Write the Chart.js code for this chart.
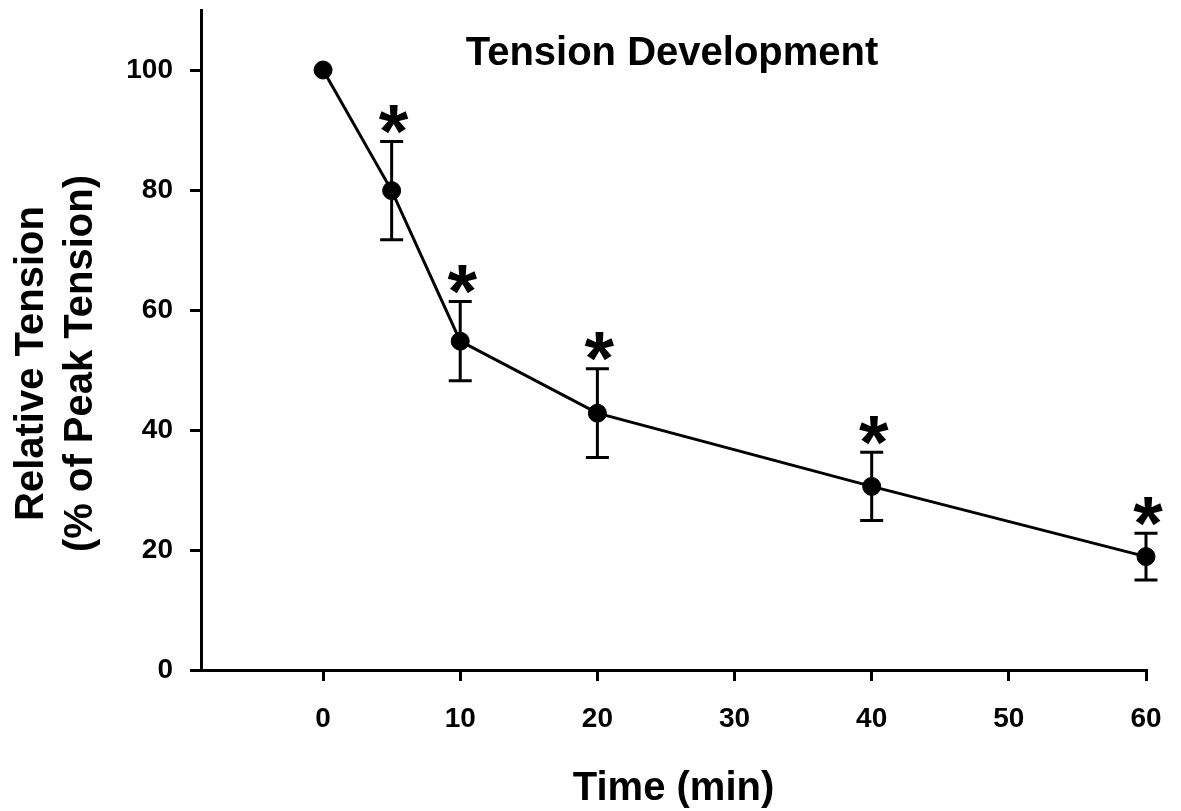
<!DOCTYPE html>
<html>
<head>
<meta charset="utf-8">
<script src="https://cdn.jsdelivr.net/npm/chart.js@4.4.1/dist/chart.umd.min.js"></script>
<style>
  html, body { margin: 0; padding: 0; background: #fff; }
  #wrap { width: 1181px; height: 811px; }
</style>
</head>
<body>
<div id="wrap"><canvas id="tensionChart" width="1181" height="811"></canvas></div>
<script>
// data
const times = [0, 5, 10, 20, 40, 60];
const tension = [100, 79.9, 54.8, 42.8, 30.6, 18.9];
const tensionErr = [0, 8.2, 6.6, 7.4, 5.7, 3.9];
const significant = [false, true, true, true, true, true];
const xTicks = [0, 10, 20, 30, 40, 50, 60];
const yTicks = [0, 20, 40, 60, 80, 100];

const titleText = 'Tension Development';
const yTitleLines = ['Relative Tension', '(% of Peak Tension)'];
const xTitleText = 'Time (min)';

document.addEventListener('DOMContentLoaded', function () {
    const FONT = "'Liberation Sans', Arial, sans-serif";
    Chart.defaults.font.family = FONT;
    Chart.defaults.color = '#000';

    const ctx = document.getElementById('tensionChart').getContext('2d');

    // error bars + asterisks, drawn through the chart scales
    const errorBars = {
        id: 'errorBars',
        beforeDatasetsDraw: chart => {
            const c = chart.ctx;
            const xs = chart.scales.x, ys = chart.scales.y;
            c.save();
            c.strokeStyle = '#000';
            c.lineWidth = 3;
            times.forEach((t, i) => {
                if (!tensionErr[i]) return;
                const px = xs.getPixelForValue(t);
                const top = ys.getPixelForValue(tension[i] + tensionErr[i]);
                const bot = ys.getPixelForValue(tension[i] - tensionErr[i]);
                c.beginPath();
                c.moveTo(px, top); c.lineTo(px, bot);
                c.moveTo(px - 11.5, top); c.lineTo(px + 11.5, top);
                c.moveTo(px - 11.5, bot); c.lineTo(px + 11.5, bot);
                c.stroke();
            });
            c.restore();
        },
        afterDraw: chart => {
            const c = chart.ctx;
            const xs = chart.scales.x, ys = chart.scales.y;
            c.save();
            c.fillStyle = '#000';

            // significance marks
            c.font = 'bold 76px ' + FONT;
            c.textAlign = 'center';
            c.textBaseline = 'alphabetic';
            const m = c.measureText('*');
            const inkMid = (m.actualBoundingBoxDescent - m.actualBoundingBoxAscent) / 2;
            times.forEach((t, i) => {
                if (!significant[i]) return;
                const px = xs.getPixelForValue(t) + 2;
                const top = ys.getPixelForValue(tension[i] + tensionErr[i]);
                c.fillText('*', px, top - 22 - inkMid);
            });

            // plot title inside the area
            c.font = 'bold 40px ' + FONT;
            c.fillText(titleText, 672, 65);

            // y axis title, two rotated lines
            const baselines = [43, 92];
            yTitleLines.forEach((line, i) => {
                c.save();
                c.translate(baselines[i], 363.5);
                c.rotate(-Math.PI / 2);
                c.fillText(line, 0, 0);
                c.restore();
            });
            c.restore();
        }
    };

    new Chart(ctx, {
        type: 'line',
        data: {
            datasets: [{
                data: times.map((t, i) => ({ x: t, y: tension[i] })),
                borderColor: '#000',
                borderWidth: 3,
                backgroundColor: '#000',
                pointRadius: 9,
                pointBorderWidth: 1,
                pointBackgroundColor: '#000',
                pointBorderColor: '#000',
                tension: 0,
                fill: false,
                clip: false
            }]
        },
        options: {
            responsive: false,
            animation: false,
            layout: { padding: { top: 7, right: 35, bottom: 0, left: 0 } },
            plugins: {
                legend: { display: false },
                tooltip: { enabled: false }
            },
            scales: {
                x: {
                    type: 'linear',
                    min: -8.9,
                    max: 60,
                    afterBuildTicks: axis => { axis.ticks = xTicks.map(v => ({ value: v })); },
                    afterFit: axis => {
                        axis.height = 141;
                        axis.paddingLeft = 0;
                        axis.paddingRight = 0;
                    },
                    border: { color: '#000', width: 3 },
                    grid: { drawOnChartArea: false, color: '#000', lineWidth: 3, tickLength: 11 },
                    ticks: { font: { size: 28, weight: 'bold' }, padding: 21, color: '#000', maxRotation: 0 },
                    title: {
                        display: true,
                        text: xTitleText,
                        font: { size: 40, weight: 'bold' },
                        color: '#000',
                        padding: { top: 0, bottom: -2 }
                    }
                },
                y: {
                    min: 0,
                    max: 110,
                    afterBuildTicks: axis => { axis.ticks = yTicks.map(v => ({ value: v })); },
                    afterFit: axis => {
                        axis.width = 201;
                        axis.paddingTop = 0;
                        axis.paddingBottom = 0;
                    },
                    border: { color: '#000', width: 3 },
                    grid: { drawOnChartArea: false, color: '#000', lineWidth: 3, tickLength: 11 },
                    ticks: { font: { size: 28, weight: 'bold' }, padding: 17, color: '#000' }
                }
            }
        },
        plugins: [errorBars]
    });
});
</script>
</body>
</html>
